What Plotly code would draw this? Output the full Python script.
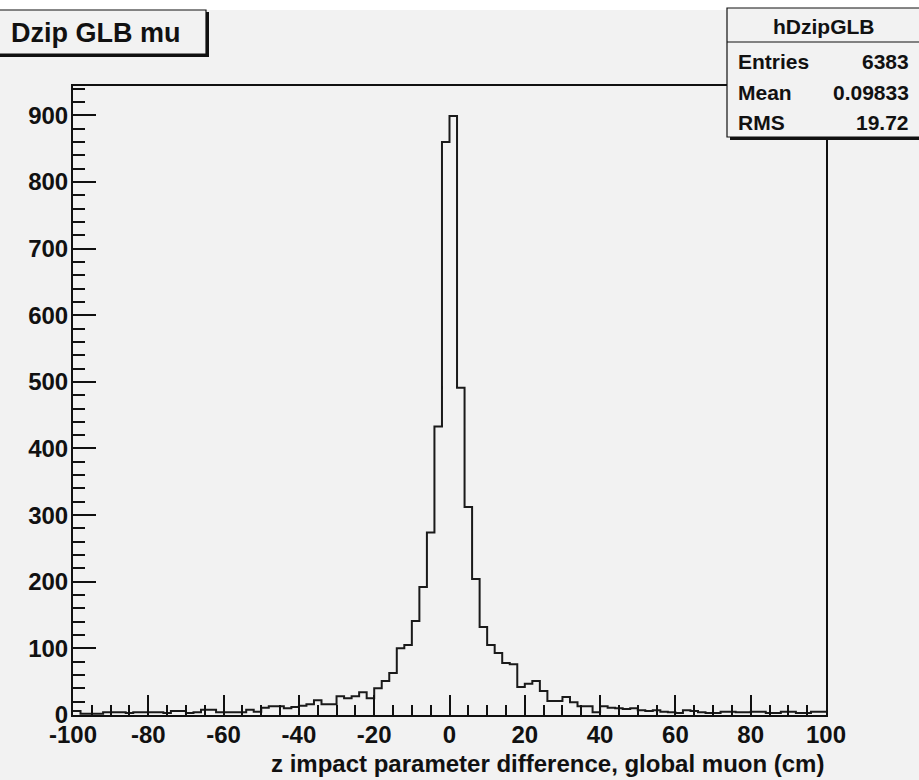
import plotly.graph_objects as go

# ---- data (100 bins of width 2 from -100 to 100) ----
bin_low = -100
bin_width = 2
counts = [
    # -100 .. -40
    6, 2, 2, 2, 4, 4, 4, 3, 4, 4, 4, 4, 3, 6, 6, 3, 4, 8, 8, 4,
    4, 4, 4, 8, 5, 11, 13, 13, 10, 12,
    # -40 .. 0
    14, 16, 22, 16, 16, 28, 25, 28, 34, 25, 40, 51, 63, 100, 105, 141, 192, 274, 433, 860,
    # 0 .. 40
    899, 491, 312, 204, 132, 105, 93, 78, 76, 42, 47, 51, 36, 21, 21, 27, 19, 13, 13, 4,
    # 40 .. 100
    13, 11, 10, 9, 10, 7, 6, 7, 5, 4, 3, 7, 6, 4, 3, 3, 5, 5, 4, 4,
    5, 5, 3, 3, 5, 5, 3, 3, 5, 5,
]
x_ticks = [-100, -80, -60, -40, -20, 0, 20, 40, 60, 80, 100]
y_ticks = [0, 100, 200, 300, 400, 500, 600, 700, 800, 900]
title_text = "Dzip GLB mu"
x_title = "z impact parameter difference, global muon (cm)"
stats_name = "hDzipGLB"
stats_labels = ["Entries", "Mean", "RMS"]
stats_values = ["6383", "0.09833", "19.72"]

edges = [bin_low + i * bin_width for i in range(len(counts) + 1)]
step_y = counts + [counts[-1]]

W, H = 919, 780
L, R, T, B = 73, 93, 86, 65
PW, PH = W - L - R, H - T - B

def px(x):
    return (x - L) / PW

def py(y):
    return (H - B - y) / PH

BG = "#f2f2f2"
SANS = "Liberation Sans, Arial, Helvetica, sans-serif"

fig = go.Figure()
fig.add_trace(go.Scatter(
    x=edges, y=step_y, mode="lines", line=dict(shape="hv", color="#1a1a1a", width=2),
    hoverinfo="skip", showlegend=False,
))

shapes = []
# white strip on top
shapes.append(dict(type="rect", xref="paper", yref="paper", x0=px(0), x1=px(W), y0=py(0), y1=py(10),
                   fillcolor="white", line=dict(width=0), layer="below"))
# title box with shadow
shapes.append(dict(type="rect", xref="paper", yref="paper", x0=px(-2), x1=px(209), y0=py(12), y1=py(57),
                   fillcolor="#111", line=dict(width=0), layer="above"))
shapes.append(dict(type="rect", xref="paper", yref="paper", x0=px(-2), x1=px(206), y0=py(10), y1=py(54),
                   fillcolor=BG, line=dict(color="#111", width=1.2), layer="above"))
# stats box with shadow
shapes.append(dict(type="rect", xref="paper", yref="paper", x0=px(730), x1=px(925), y0=py(11), y1=py(140),
                   fillcolor="#111", line=dict(width=0), layer="above"))
shapes.append(dict(type="rect", xref="paper", yref="paper", x0=px(727), x1=px(925), y0=py(8), y1=py(137),
                   fillcolor=BG, line=dict(color="#111", width=1.2), layer="above"))
shapes.append(dict(type="line", xref="paper", yref="paper", x0=px(727), x1=px(925), y0=py(42), y1=py(42),
                   line=dict(color="#111", width=1.2), layer="above"))
fig.update_layout(shapes=shapes)

ann = []
ann.append(dict(text=f"<b>{title_text}</b>", xref="paper", yref="paper", x=px(9), y=py(33),
                xanchor="left", yanchor="middle", showarrow=False,
                font=dict(family=SANS, size=27, color="#111")))
ann.append(dict(text=f"<b>{stats_name}</b>", xref="paper", yref="paper", x=px(823), y=py(26),
                xanchor="center", yanchor="middle", showarrow=False,
                font=dict(family=SANS, size=21, color="#111")))
rows_y = [61, 92, 122]
for lab, val, yy in zip(stats_labels, stats_values, rows_y):
    ann.append(dict(text=f"<b>{lab}</b>", xref="paper", yref="paper", x=px(736), y=py(yy),
                    xanchor="left", yanchor="middle", showarrow=False,
                    font=dict(family=SANS, size=21, color="#111")))
    ann.append(dict(text=f"<b>{val}</b>", xref="paper", yref="paper", x=px(911), y=py(yy),
                    xanchor="right", yanchor="middle", showarrow=False,
                    font=dict(family=SANS, size=21, color="#111")))
ann.append(dict(text=f"<b>{x_title}</b>", xref="paper", yref="paper", x=px(826), y=py(763),
                xanchor="right", yanchor="middle", showarrow=False,
                font=dict(family=SANS, size=24, color="#111")))

fig.update_layout(
    annotations=ann,
    width=W, height=H,
    margin=dict(l=L, r=R, t=T, b=B, pad=0),
    paper_bgcolor=BG, plot_bgcolor=BG,
    xaxis=dict(
        range=[-100, 100], tickvals=x_ticks, ticktext=[str(v) for v in x_ticks],
        ticks="inside", ticklen=20, tickwidth=1.5, tickcolor="#111",
        minor=dict(dtick=5, tick0=0, ticks="inside", ticklen=10, tickwidth=1.5, tickcolor="#111", showgrid=False),
        showline=True, linecolor="#111", linewidth=2, mirror=True,
        showgrid=False, zeroline=False,
        tickfont=dict(family=SANS, size=24, color="#111", weight="bold"),
        ticklabelstandoff=-3,
    ),
    yaxis=dict(
        range=[0, 944], tickvals=y_ticks, ticktext=[str(v) for v in y_ticks],
        ticks="inside", ticklen=23, tickwidth=1.5, tickcolor="#111",
        minor=dict(dtick=20, tick0=0, ticks="inside", ticklen=12, tickwidth=1.5, tickcolor="#111", showgrid=False),
        showline=True, linecolor="#111", linewidth=2, mirror=True,
        showgrid=False, zeroline=False,
        tickfont=dict(family=SANS, size=24, color="#111", weight="bold"),
        ticklabelstandoff=-2,
    ),
)

fig.write_html("out.html")
